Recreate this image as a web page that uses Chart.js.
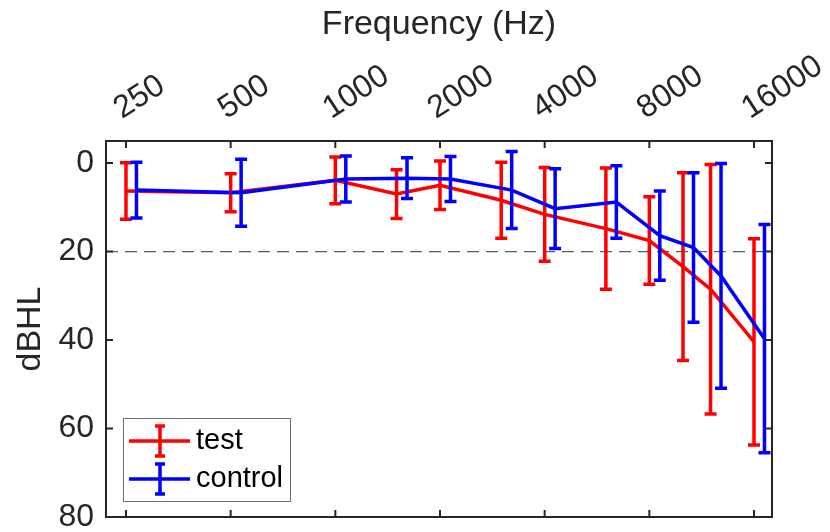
<!DOCTYPE html>
<html lang="en">
<head>
    <meta charset="UTF-8">
    <title>Audiogram: test vs control</title>
    <script src="https://cdn.jsdelivr.net/npm/chart.js"></script>
    <style>
        body {
            margin: 0;
            background: #ffffff;
        }

        #chart-container {
            width: 830px;
            height: 532px;
            position: relative;
        }
    </style>
</head>
<body>
    <div id="chart-container">
        <canvas id="audioChart"></canvas>
    </div>

    <script>
        // measured frequencies (Hz)
        const freqs = [250, 500, 1000, 1500, 2000, 3000, 4000, 6000, 8000, 10000, 12000, 16000];

        // tick labels
        const xTicks = [250, 500, 1000, 2000, 4000, 8000, 16000];
        const yTicks = [0, 20, 40, 60, 80];

        // thresholds (dB HL), mean and error bar half-length
        const testMean = [6.3, 6.7, 3.9, 7.0, 5.0, 8.4, 11.6, 14.8, 17.5, 23.4, 28.5, 40.4];
        const testErr = [6.4, 4.3, 5.3, 5.5, 5.5, 8.6, 10.6, 13.7, 9.9, 21.2, 28.2, 23.3];
        const controlMean = [6.1, 6.7, 3.6, 3.4, 3.6, 6.1, 10.3, 8.8, 16.4, 19.1, 25.5, 39.7];
        const controlErr = [6.3, 7.6, 5.2, 4.6, 5.1, 8.7, 9.0, 8.2, 10.1, 16.9, 25.4, 25.8];

        const refLevel = 20;              // dashed reference line
        const controlShift = Math.pow(2, 0.1); // control drawn 0.1 octave to the right

        const TEXT = "#262626";
        Chart.defaults.font.family = '"Liberation Sans", Arial, sans-serif';
        Chart.defaults.color = TEXT;

        const series = [
            { label: "test", color: "#ff0000", mean: testMean, err: testErr, shift: 1, order: 2 },
            { label: "control", color: "#0000ff", mean: controlMean, err: controlErr, shift: controlShift, order: 1 }
        ];

        // error bars drawn right after each line, through the chart scales
        const errorBars = {
            id: "errorBars",
            afterDatasetDraw(chart, args) {
                const s = series[args.index];
                const xs = chart.scales.x, ys = chart.scales.y;
                const ctx = chart.ctx;
                ctx.save();
                ctx.strokeStyle = s.color;
                ctx.lineWidth = 3.5;
                ctx.lineCap = "butt";
                freqs.forEach((f, i) => {
                    const px = xs.getPixelForValue(f * s.shift);
                    const y1 = ys.getPixelForValue(s.mean[i] - s.err[i]);
                    const y2 = ys.getPixelForValue(s.mean[i] + s.err[i]);
                    ctx.beginPath();
                    ctx.moveTo(px, y1); ctx.lineTo(px, y2);
                    ctx.moveTo(px - 6, y1); ctx.lineTo(px + 6, y1);
                    ctx.moveTo(px - 6, y2); ctx.lineTo(px + 6, y2);
                    ctx.stroke();
                });
                ctx.restore();
            }
        };

        // dashed reference line, axes box with inward ticks, legend
        const decor = {
            id: "decor",
            beforeDatasetsDraw(chart) {
                const { ctx, chartArea: a } = chart;
                const py = chart.scales.y.getPixelForValue(refLevel);
                ctx.save();
                ctx.strokeStyle = "rgba(38,38,38,0.75)";
                ctx.lineWidth = 1.2;
                ctx.setLineDash([12, 7]);
                ctx.beginPath();
                ctx.moveTo(a.left, py); ctx.lineTo(a.right, py);
                ctx.stroke();
                ctx.restore();
            },
            afterDraw(chart) {
                const { ctx, chartArea: a } = chart;
                const xs = chart.scales.x, ys = chart.scales.y;
                ctx.save();
                ctx.strokeStyle = TEXT;
                ctx.lineWidth = 2;
                ctx.strokeRect(a.left, a.top, a.right - a.left, a.bottom - a.top);
                ctx.beginPath();
                xTicks.forEach(v => {
                    const px = xs.getPixelForValue(v);
                    ctx.moveTo(px, a.top); ctx.lineTo(px, a.top + 7);
                    ctx.moveTo(px, a.bottom); ctx.lineTo(px, a.bottom - 7);
                });
                yTicks.forEach(v => {
                    const py = ys.getPixelForValue(v);
                    ctx.moveTo(a.left, py); ctx.lineTo(a.left + 7, py);
                    ctx.moveTo(a.right, py); ctx.lineTo(a.right - 7, py);
                });
                ctx.stroke();

                // legend
                const lx = 123, ly = 418, lw = 167, lh = 83;
                ctx.fillStyle = "#ffffff";
                ctx.fillRect(lx, ly, lw, lh);
                ctx.strokeStyle = "#707070";
                ctx.lineWidth = 1;
                ctx.strokeRect(lx + 0.5, ly + 0.5, lw, lh);
                ctx.font = '29px "Liberation Sans", Arial, sans-serif';
                ctx.textBaseline = "middle";
                ctx.textAlign = "left";
                series.forEach((s, i) => {
                    const cy = 441 + i * 38;
                    ctx.strokeStyle = s.color;
                    ctx.lineWidth = 3.5;
                    ctx.beginPath();
                    ctx.moveTo(129, cy); ctx.lineTo(190, cy);
                    ctx.moveTo(160, cy - 15); ctx.lineTo(160, cy + 15);
                    ctx.moveTo(155, cy - 15); ctx.lineTo(165, cy - 15);
                    ctx.moveTo(155, cy + 15); ctx.lineTo(165, cy + 15);
                    ctx.stroke();
                    ctx.fillStyle = "#000000";
                    ctx.fillText(s.label, 196, cy);
                });
                ctx.restore();
            }
        };

        const ctx = document.getElementById("audioChart").getContext("2d");

        new Chart(ctx, {
            type: "line",
            data: {
                datasets: series.map(s => ({
                    label: s.label,
                    data: freqs.map((f, i) => ({ x: f * s.shift, y: s.mean[i] })),
                    borderColor: s.color,
                    backgroundColor: s.color,
                    borderWidth: 3.5,
                    pointRadius: 0,
                    tension: 0,
                    fill: false,
                    order: s.order,
                    clip: false
                }))
            },
            options: {
                animation: false,
                responsive: true,
                maintainAspectRatio: false,
                layout: { padding: { left: 0, top: 0, right: 58, bottom: 15 } },
                plugins: {
                    legend: { display: false },
                    tooltip: { enabled: false }
                },
                scales: {
                    x: {
                        type: "logarithmic",
                        position: "top",
                        min: 219,
                        max: 18025,
                        afterBuildTicks: s => { s.ticks = xTicks.map(v => ({ value: v })); },
                        afterFit: s => { s.height = 141; s.paddingLeft = 0; s.paddingRight = 0; },
                        grid: { display: false, drawTicks: false },
                        border: { display: false },
                        ticks: {
                            autoSkip: false,
                            minRotation: 33,
                            maxRotation: 33,
                            padding: 13,
                            labelOffset: 12,
                            color: TEXT,
                            font: { size: 32 },
                            callback: v => String(v)
                        },
                        title: {
                            display: true,
                            text: "Frequency (Hz)",
                            color: TEXT,
                            font: { size: 34 },
                            padding: { top: 4, bottom: 0 }
                        }
                    },
                    y: {
                        reverse: true,
                        min: -5,
                        max: 80,
                        afterBuildTicks: s => { s.ticks = yTicks.map(v => ({ value: v })); },
                        afterFit: s => { s.width = 106; s.paddingTop = 0; s.paddingBottom = 0; },
                        grid: { display: false, drawTicks: false },
                        border: { display: false },
                        ticks: {
                            padding: 12,
                            color: TEXT,
                            font: { size: 32 }
                        },
                        title: {
                            display: true,
                            text: "dBHL",
                            color: TEXT,
                            font: { size: 34 },
                            padding: { top: 10, bottom: 0 }
                        }
                    }
                }
            },
            plugins: [errorBars, decor]
        });
    </script>
</body>
</html>
